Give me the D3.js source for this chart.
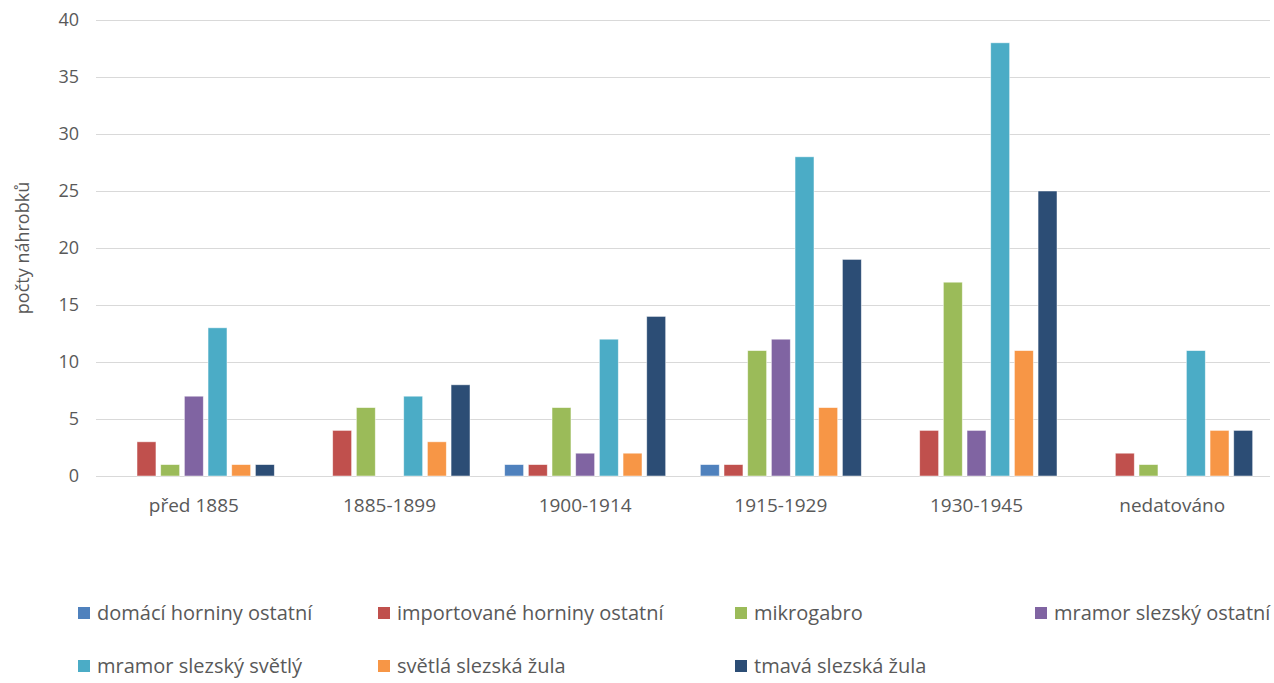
<!DOCTYPE html>
<html lang="en">
<head>
    <meta charset="UTF-8">
    <title>Počty náhrobků</title>
    <script src="https://d3js.org/d3.v7.min.js"></script>
    <style>
        body { margin: 0; background: #fff; }
        text { font-family: "Open Sans", "Noto Sans", sans-serif; fill: #595959; }
    </style>
</head>
<body>
    <div id="chart"></div>

    <script>
        // categories and series
        const categories = ["před 1885", "1885-1899", "1900-1914", "1915-1929", "1930-1945", "nedatováno"];
        const seriesNames = [
            "domácí horniny ostatní",
            "importované horniny ostatní",
            "mikrogabro",
            "mramor slezský ostatní",
            "mramor slezský světlý",
            "světlá slezská žula",
            "tmavá slezská žula"
        ];
        const domaci      = [0, 0, 1, 1, 0, 0];
        const importovane = [3, 4, 1, 1, 4, 2];
        const mikrogabro  = [1, 6, 6, 11, 17, 1];
        const mramorOst   = [7, 0, 2, 12, 4, 0];
        const mramorSvet  = [13, 7, 12, 28, 38, 11];
        const svetlaZula  = [1, 3, 2, 6, 11, 4];
        const tmavaZula   = [1, 8, 14, 19, 25, 4];
        const yTicks = [0, 5, 10, 15, 20, 25, 30, 35, 40];

        const values = [domaci, importovane, mikrogabro, mramorOst, mramorSvet, svetlaZula, tmavaZula];
        const colors = ["#4f81bd", "#c0504d", "#9bbb59", "#8064a2", "#4bacc6", "#f79646", "#2c4d75"];

        const width = 1274, height = 683;
        const plotLeft = 96, plotRight = 1270, plotTop = 20, plotBottom = 476;

        const svg = d3.select("#chart")
            .append("svg")
            .attr("width", width)
            .attr("height", height);

        const x0 = d3.scaleBand()
            .domain(categories)
            .range([plotLeft, plotRight]);

        const x1 = d3.scaleBand()
            .domain(seriesNames)
            .range([-80.5, 80.5])
            .paddingInner(0.2);

        const y = d3.scaleLinear()
            .domain([0, 40])
            .range([plotBottom, plotTop]);

        // gridlines
        svg.append("g")
            .selectAll("line")
            .data(yTicks)
            .join("line")
            .attr("x1", plotLeft)
            .attr("x2", plotRight)
            .attr("y1", d => Math.round(y(d)) + 0.5)
            .attr("y2", d => Math.round(y(d)) + 0.5)
            .attr("stroke", "#d9d9d9")
            .attr("stroke-width", 1);

        // y tick labels
        svg.append("g")
            .selectAll("text")
            .data(yTicks)
            .join("text")
            .attr("x", 79)
            .attr("y", d => y(d))
            .attr("dy", "0.35em")
            .attr("text-anchor", "end")
            .style("font-size", "18px")
            .text(d => d);

        // bars
        const groups = svg.append("g")
            .selectAll("g")
            .data(categories)
            .join("g")
            .attr("transform", d => `translate(${x0(d) + x0.bandwidth() / 2},0)`);

        groups.selectAll("rect")
            .data((c, i) => seriesNames.map((s, j) => ({ s, j, v: values[j][i] })).filter(d => d.v > 0))
            .join("rect")
            .attr("x", d => x1(d.s))
            .attr("width", x1.bandwidth())
            .attr("y", d => y(d.v))
            .attr("height", d => y(0) - y(d.v))
            .attr("fill", d => colors[d.j])
            .attr("stroke", "#ffffff")
            .attr("stroke-opacity", 0.6)
            .attr("stroke-width", 0.8);

        // category labels
        svg.append("g")
            .selectAll("text")
            .data(categories)
            .join("text")
            .attr("x", d => x0(d) + x0.bandwidth() / 2)
            .attr("y", 512)
            .attr("text-anchor", "middle")
            .style("font-size", "19px")
            .text(d => d);

        // y axis title
        svg.append("text")
            .attr("transform", "translate(29,248) rotate(-90)")
            .attr("text-anchor", "middle")
            .style("font-size", "18px")
            .text("počty náhrobků");

        // legend
        const legendX = [78, 378, 735, 1035];
        const legend = svg.append("g")
            .selectAll("g")
            .data(seriesNames)
            .join("g")
            .attr("transform", (d, i) => `translate(${legendX[i % 4]},${i < 4 ? 613 : 666})`);

        legend.append("rect")
            .attr("x", 0)
            .attr("y", -6)
            .attr("width", 12)
            .attr("height", 12)
            .attr("fill", (d, i) => colors[i]);

        legend.append("text")
            .attr("x", 19)
            .attr("y", 0)
            .attr("dy", "0.35em")
            .style("font-size", "20px")
            .text(d => d);
    </script>
</body>
</html>
